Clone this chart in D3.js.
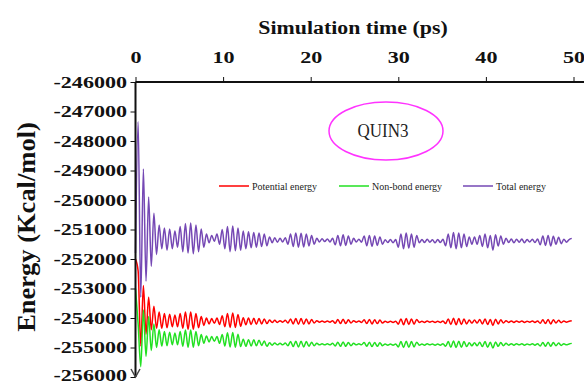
<!DOCTYPE html>
<html>
<head>
<meta charset="utf-8">
<script src="https://cdn.jsdelivr.net/npm/d3@7"></script>
<style>
  body { margin: 0; background: #fff; }
  svg { display: block; }
</style>
</head>
<body>
<div id="chart-area"></div>
<script>
const timeStep = 0.3;

const totalEnergy = [
  -251800, -247350, -253300, -248950, -252750, -249900, -252250, -250450, -251850, -250850,
  -251650, -250950, -251700, -250980, -251650, -251050, -251600, -250900, -251750, -250800,
  -251800, -250780, -251820, -250850, -251750, -250980, -251600, -251150, -251450, -251200,
  -251400, -251150, -251500, -251000, -251650, -250900, -251750, -250880, -251720, -250950,
  -251700, -251050, -251650, -251080, -251620, -251100, -251600, -251120, -251580, -251150,
  -251550, -251250, -251450, -251280, -251430, -251300, -251420, -251280, -251500, -251150,
  -251580, -251120, -251600, -251130, -251590, -251150, -251560, -251200, -251500, -251300,
  -251420, -251310, -251410, -251320, -251420, -251300, -251520, -251200, -251550, -251180,
  -251540, -251220, -251500, -251300, -251420, -251330, -251430, -251220, -251550, -251200,
  -251570, -251220, -251540, -251250, -251500, -251350, -251440, -251340, -251450, -251340,
  -251600, -251150, -251650, -251120, -251630, -251150, -251600, -251200, -251450, -251340,
  -251440, -251330, -251430, -251350, -251450, -251340, -251440, -251330, -251550, -251150,
  -251620, -251100, -251650, -251120, -251620, -251150, -251580, -251250, -251500, -251250,
  -251500, -251200, -251580, -251150, -251620, -251200, -251700, -251180, -251560, -251220,
  -251500, -251300, -251440, -251320, -251450, -251330, -251430, -251320, -251450, -251340,
  -251420, -251330, -251440, -251320, -251520, -251220, -251540, -251200, -251560, -251230,
  -251500, -251260, -251480, -251330, -251430, -251340, -251300
];

const potentialEnergy = [
  -252000, -252400, -254950, -252900, -254550, -253300, -254400, -253600, -254350, -253800,
  -254350, -253850, -254330, -253870, -254300, -253900, -254300, -253850, -254350, -253800,
  -254380, -253800, -254380, -253850, -254330, -253950, -254250, -254000, -254200, -254020,
  -254180, -254000, -254220, -253920, -254300, -253850, -254320, -253830, -254320, -253880,
  -254280, -253990, -254230, -254000, -254220, -254010, -254210, -254020, -254200, -254030,
  -254190, -254070, -254150, -254080, -254150, -254090, -254140, -254080, -254170, -254030,
  -254200, -254020, -254210, -254020, -254210, -254030, -254200, -254050, -254170, -254090,
  -254140, -254100, -254140, -254100, -254140, -254090, -254180, -254050, -254190, -254040,
  -254190, -254060, -254170, -254090, -254140, -254100, -254150, -254060, -254190, -254050,
  -254200, -254060, -254190, -254070, -254170, -254110, -254150, -254110, -254150, -254110,
  -254210, -254030, -254230, -254020, -254220, -254030, -254210, -254050, -254150, -254110,
  -254150, -254100, -254140, -254110, -254150, -254110, -254150, -254100, -254190, -254030,
  -254220, -254010, -254230, -254020, -254220, -254030, -254200, -254070, -254170, -254070,
  -254170, -254050, -254200, -254030, -254220, -254050, -254250, -254040, -254200, -254060,
  -254170, -254090, -254150, -254100, -254150, -254100, -254140, -254100, -254150, -254110,
  -254140, -254100, -254150, -254100, -254180, -254060, -254190, -254050, -254200, -254060,
  -254170, -254080, -254160, -254100, -254140, -254110, -254090
];

const nonBondEnergy = [
  -253000, -254200, -255650, -253730, -255300, -253950, -255100, -254200, -255000, -254400,
  -254950, -254460, -254940, -254480, -254910, -254510, -254910, -254460, -254960, -254410,
  -254990, -254410, -254990, -254460, -254940, -254560, -254860, -254610, -254810, -254630,
  -254790, -254630, -254860, -254560, -254950, -254500, -254980, -254490, -254990, -254550,
  -254970, -254720, -254960, -254735, -254950, -254740, -254940, -254750, -254930, -254780,
  -254960, -254840, -254920, -254850, -254910, -254860, -254910, -254850, -254940, -254800,
  -254970, -254790, -254980, -254790, -254980, -254800, -254960, -254820, -254940, -254860,
  -254910, -254870, -254910, -254870, -254910, -254860, -254950, -254820, -254960, -254810,
  -254960, -254830, -254940, -254860, -254910, -254870, -254910, -254830, -254960, -254820,
  -254970, -254830, -254960, -254840, -254940, -254880, -254920, -254880, -254920, -254880,
  -254980, -254800, -255000, -254790, -254990, -254800, -254980, -254820, -254920, -254880,
  -254920, -254870, -254910, -254880, -254920, -254880, -254920, -254870, -254960, -254800,
  -254990, -254780, -255000, -254790, -254990, -254800, -254970, -254840, -254940, -254840,
  -254940, -254820, -254970, -254800, -254990, -254820, -255020, -254810, -254960, -254830,
  -254940, -254860, -254920, -254870, -254920, -254870, -254910, -254870, -254920, -254880,
  -254910, -254870, -254920, -254870, -254950, -254830, -254960, -254820, -254960, -254830,
  -254940, -254850, -254930, -254870, -254910, -254880, -254860
];

const xTicks = [0, 10, 20, 30, 40, 50];
const yTicks = [-246000, -247000, -248000, -249000, -250000, -251000,
                -252000, -253000, -254000, -255000, -256000];

const seriesNames = ['Potential energy', 'Non-bond energy', 'Total energy'];
const seriesColors = ['#ff0000', '#22e022', '#7548b4'];
const seriesData = [potentialEnergy, nonBondEnergy, totalEnergy];

const width = 584, height = 383;

let svg = d3.select('#chart-area').append('svg')
    .attr('width', width).attr('height', height);

let x = d3.scaleLinear().domain([0, 50]).range([135.5, 573.5]);
let y = d3.scaleLinear().domain([-256000, -246000]).range([377, 82]);

const serif = '"Liberation Serif", "Times New Roman", serif';
const stretch = 'scale(1.3,1)'; // the original lettering is drawn wide

// data lines
let line = d3.line()
    .x((d, i) => x(i * timeStep))
    .y((d) => y(d))
    .curve(d3.curveMonotoneX);

// total first, then potential and non-bond on top
[2, 0, 1].forEach((k) => {
    svg.append('path')
        .datum(seriesData[k])
        .attr('fill', 'none')
        .attr('stroke', seriesColors[k])
        .attr('stroke-width', 1.5)
        .attr('stroke-linejoin', 'round')
        .attr('d', line);
});

// top x axis
let xAxis = svg.append('g')
    .attr('transform', 'translate(0,' + y(-246000) + ')')
    .call(d3.axisTop(x).tickValues(xTicks).tickSize(5).tickPadding(14).tickFormat((d) => String(d)));
xAxis.select('.domain').attr('stroke', '#111').attr('stroke-width', 2)
    .attr('d', 'M' + x(0) + ',0H' + width);
xAxis.selectAll('.tick line').attr('stroke', '#111').attr('stroke-width', 1);
xAxis.selectAll('.tick text')
    .attr('font-family', serif).attr('font-weight', 'bold').attr('font-size', 17).attr('fill', '#111')
    .attr('transform', stretch);

// left y axis
let yAxis = svg.append('g')
    .attr('transform', 'translate(' + x(0) + ',0)')
    .call(d3.axisLeft(y).tickValues(yTicks).tickSize(5).tickPadding(1.5).tickFormat((d) => String(d)));
yAxis.select('.domain').attr('stroke', '#111').attr('stroke-width', 2)
    .attr('d', 'M0,' + y(-246000) + 'V' + y(-256000));
yAxis.selectAll('.tick line').attr('stroke', '#111').attr('stroke-width', 1);
yAxis.selectAll('.tick text')
    .attr('font-family', serif).attr('font-weight', 'bold').attr('font-size', 17).attr('fill', '#111')
    .attr('transform', stretch);
// lowest label sits right at the bottom edge, lift it a touch
yAxis.selectAll('.tick text').filter((d) => d === -256000).attr('dy', '0.2em');

// arrow head at the bottom of the y axis
svg.append('path')
    .attr('d', 'M' + (x(0) - 4.5) + ',' + (y(-256000) - 8) + 'L' + x(0) + ',' + y(-256000) +
               'L' + (x(0) + 4.5) + ',' + (y(-256000) - 8))
    .attr('fill', 'none').attr('stroke', '#444').attr('stroke-width', 1.5);

// axis titles
svg.append('text')
    .attr('transform', 'translate(353,34) scale(1.15,1)')
    .attr('text-anchor', 'middle')
    .attr('font-family', serif).attr('font-weight', 'bold').attr('font-size', 19)
    .attr('fill', '#111')
    .text('Simulation time (ps)');

svg.append('text')
    .attr('transform', 'translate(35,227) rotate(-90) scale(1.06,1)')
    .attr('text-anchor', 'middle')
    .attr('font-family', serif).attr('font-weight', 'bold').attr('font-size', 25)
    .attr('fill', '#111')
    .text('Energy (Kcal/mol)');

// legend
const legendX = [219, 339, 463];
seriesNames.forEach((name, k) => {
    svg.append('line')
        .attr('x1', legendX[k]).attr('x2', legendX[k] + 30)
        .attr('y1', 186).attr('y2', 186)
        .attr('stroke', seriesColors[k]).attr('stroke-width', 1.5);
    svg.append('text')
        .attr('x', legendX[k] + 33).attr('y', 189.5)
        .attr('font-family', serif).attr('font-size', 10)
        .attr('fill', '#222')
        .text(name);
});

// QUIN3 label in an ellipse
svg.append('ellipse')
    .attr('cx', 386).attr('cy', 131).attr('rx', 57).attr('ry', 29)
    .attr('fill', 'none').attr('stroke', '#ff33ff').attr('stroke-width', 1.5);
svg.append('text')
    .attr('transform', 'translate(383,137) scale(1,1.15)')
    .attr('text-anchor', 'middle')
    .attr('font-family', serif).attr('font-size', 17)
    .attr('fill', '#222')
    .text('QUIN3');
</script>
</body>
</html>
